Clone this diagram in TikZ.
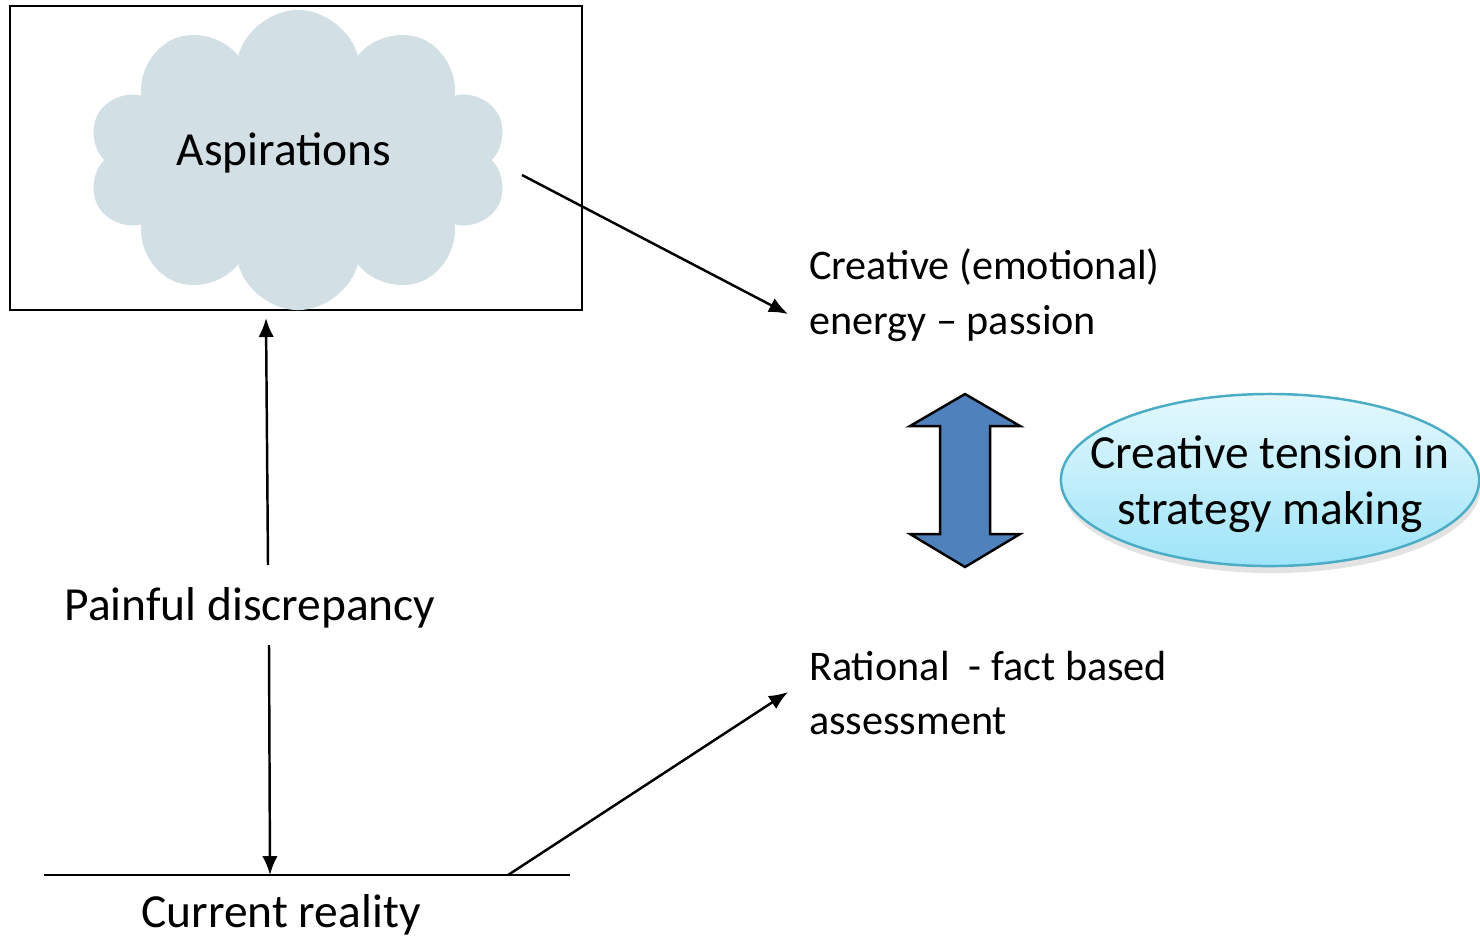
\documentclass[tikz,border=0pt]{standalone}
\usepackage{fontspec}
\setmainfont{Carlito}
\usetikzlibrary{arrows,arrows.meta}
\usetikzlibrary{calc}
\usetikzlibrary{shapes.symbols,shapes.geometric,shadows}
\definecolor{cloudgrey}{RGB}{210,223,229}
\definecolor{arrowblue}{RGB}{79,129,189}
\definecolor{ovalrim}{RGB}{75,172,198}
\definecolor{ovaltop}{RGB}{228,248,253}
\definecolor{ovalbot}{RGB}{158,228,249}

\begin{document}
\begin{tikzpicture}[x=0.01cm,y=-0.01cm,>={Latex[length=5.4pt,width=4.4pt]},line width=0.7pt,
	big/.style={font=\fontsize{13.5}{16}\selectfont},
	side/.style={font=\fontsize{12}{15.5}\selectfont,align=left,anchor=west,inner sep=0pt}]
					\useasboundingbox (0,0) rectangle (1480,935);
					\node[draw,minimum width=5.72cm,minimum height=3.04cm,inner sep=0pt] (box) at (296,158) {};
					\node[cloud,cloud puffs=10,aspect=1.4,fill=cloudgrey,minimum width=4.2cm,minimum height=3cm] (cloud) at (298,160) {};
					\node[big] (asp) at (284,153) {Aspirations};
					\node[side] (creative) at (808,295) {Creative (emotional)\\energy -- passion};
					\node[side] (rational) at (808,693) {Rational \ - fact based\\assessment};
					\node[big] (pain) at (250,608) {Painful discrepancy};
					\node[big] (current) at (281,915) {Current reality};
					\node[ellipse,draw=ovalrim,top color=ovaltop,bottom color=ovalbot,
						drop shadow={shadow xshift=0.5pt,shadow yshift=-2pt,opacity=0.22},
						minimum width=4.18cm,minimum height=1.72cm] (oval) at (1270,480) {};
					\node[big,align=center] (tension) at ($(oval.center)+(0,4)$) {Creative tension in\\strategy making};
					\filldraw[fill=arrowblue,draw=black] (965,394) -- (1020,426) -- (990,426) -- (990,534) -- (1020,534) -- (965,567)
						-- (910,534) -- (940,534) -- (940,426) -- (910,426) -- cycle;
					\coordinate (c0) at (522,175);
					\coordinate (c1) at (788,314);
					\coordinate (p0) at (268,565);
					\coordinate (p1) at (266,318);
					\coordinate (p2) at (269,645);
					\coordinate (p3) at (270,875);
					\coordinate (b0) at (44,875);
					\coordinate (b1) at (570,875);
					\coordinate (r0) at (508,875);
					\coordinate (r1) at (788,692);
					\draw[->] (c0) -- (c1);
					\draw[->] (p0) -- (p1);
					\draw[->] (p2) -- (p3);
					\draw (b0) -- (b1);
					\draw[->] (r0) -- (r1);
				\end{tikzpicture}
\end{document}
